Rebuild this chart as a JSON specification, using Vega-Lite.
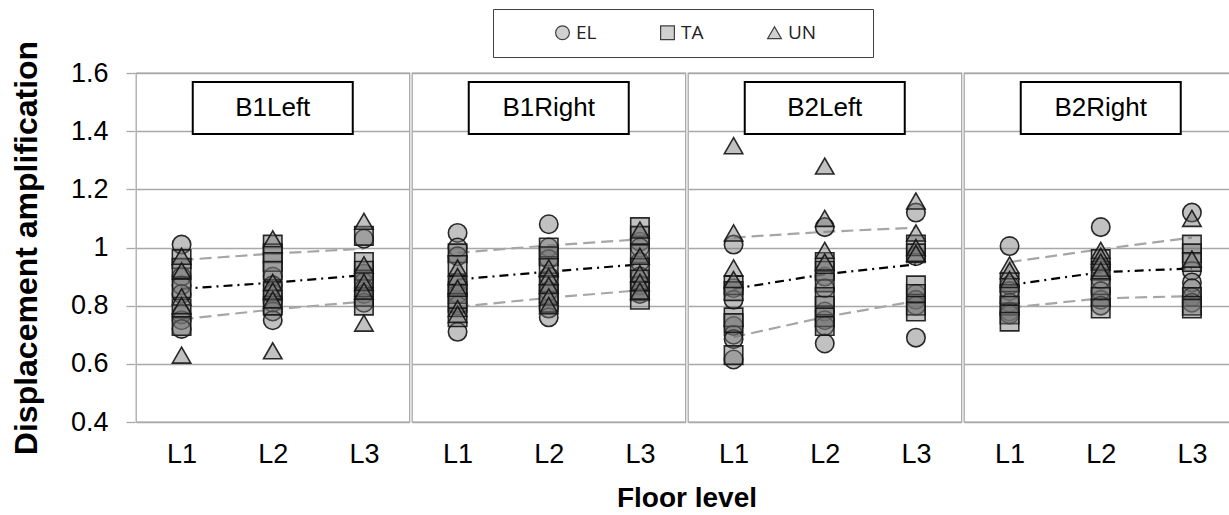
{
  "$schema": "https://vega.github.io/schema/vega-lite/v6.json",
  "padding": {"left": 10, "top": 8, "right": 0, "bottom": 0},
  "data": {
    "values": [
      {"panel": "B1Left", "level": "L1", "series": "EL", "value": 1.01},
      {"panel": "B1Left", "level": "L1", "series": "EL", "value": 0.90},
      {"panel": "B1Left", "level": "L1", "series": "EL", "value": 0.87},
      {"panel": "B1Left", "level": "L1", "series": "EL", "value": 0.84},
      {"panel": "B1Left", "level": "L1", "series": "EL", "value": 0.77},
      {"panel": "B1Left", "level": "L1", "series": "EL", "value": 0.75},
      {"panel": "B1Left", "level": "L1", "series": "EL", "value": 0.72},
      {"panel": "B1Left", "level": "L1", "series": "TA", "value": 0.96},
      {"panel": "B1Left", "level": "L1", "series": "TA", "value": 0.93},
      {"panel": "B1Left", "level": "L1", "series": "TA", "value": 0.86},
      {"panel": "B1Left", "level": "L1", "series": "TA", "value": 0.79},
      {"panel": "B1Left", "level": "L1", "series": "TA", "value": 0.73},
      {"panel": "B1Left", "level": "L1", "series": "UN", "value": 0.97},
      {"panel": "B1Left", "level": "L1", "series": "UN", "value": 0.92},
      {"panel": "B1Left", "level": "L1", "series": "UN", "value": 0.83},
      {"panel": "B1Left", "level": "L1", "series": "UN", "value": 0.80},
      {"panel": "B1Left", "level": "L1", "series": "UN", "value": 0.63},
      {"panel": "B1Left", "level": "L2", "series": "EL", "value": 0.90},
      {"panel": "B1Left", "level": "L2", "series": "EL", "value": 0.87},
      {"panel": "B1Left", "level": "L2", "series": "EL", "value": 0.84},
      {"panel": "B1Left", "level": "L2", "series": "EL", "value": 0.81},
      {"panel": "B1Left", "level": "L2", "series": "EL", "value": 0.78},
      {"panel": "B1Left", "level": "L2", "series": "EL", "value": 0.75},
      {"panel": "B1Left", "level": "L2", "series": "TA", "value": 1.01},
      {"panel": "B1Left", "level": "L2", "series": "TA", "value": 0.98},
      {"panel": "B1Left", "level": "L2", "series": "TA", "value": 0.95},
      {"panel": "B1Left", "level": "L2", "series": "TA", "value": 0.92},
      {"panel": "B1Left", "level": "L2", "series": "TA", "value": 0.85},
      {"panel": "B1Left", "level": "L2", "series": "TA", "value": 0.80},
      {"panel": "B1Left", "level": "L2", "series": "UN", "value": 1.03},
      {"panel": "B1Left", "level": "L2", "series": "UN", "value": 0.88},
      {"panel": "B1Left", "level": "L2", "series": "UN", "value": 0.85},
      {"panel": "B1Left", "level": "L2", "series": "UN", "value": 0.82},
      {"panel": "B1Left", "level": "L2", "series": "UN", "value": 0.645},
      {"panel": "B1Left", "level": "L3", "series": "EL", "value": 1.03},
      {"panel": "B1Left", "level": "L3", "series": "EL", "value": 0.91},
      {"panel": "B1Left", "level": "L3", "series": "EL", "value": 0.88},
      {"panel": "B1Left", "level": "L3", "series": "EL", "value": 0.86},
      {"panel": "B1Left", "level": "L3", "series": "EL", "value": 0.84},
      {"panel": "B1Left", "level": "L3", "series": "EL", "value": 0.81},
      {"panel": "B1Left", "level": "L3", "series": "TA", "value": 1.04},
      {"panel": "B1Left", "level": "L3", "series": "TA", "value": 0.95},
      {"panel": "B1Left", "level": "L3", "series": "TA", "value": 0.92},
      {"panel": "B1Left", "level": "L3", "series": "TA", "value": 0.89},
      {"panel": "B1Left", "level": "L3", "series": "TA", "value": 0.83},
      {"panel": "B1Left", "level": "L3", "series": "TA", "value": 0.80},
      {"panel": "B1Left", "level": "L3", "series": "UN", "value": 1.09},
      {"panel": "B1Left", "level": "L3", "series": "UN", "value": 0.94},
      {"panel": "B1Left", "level": "L3", "series": "UN", "value": 0.88},
      {"panel": "B1Left", "level": "L3", "series": "UN", "value": 0.85},
      {"panel": "B1Left", "level": "L3", "series": "UN", "value": 0.74},
      {"panel": "B1Left", "level": "L1", "series": "mean", "value": 0.858},
      {"panel": "B1Left", "level": "L2", "series": "mean", "value": 0.879},
      {"panel": "B1Left", "level": "L3", "series": "mean", "value": 0.905},
      {"panel": "B1Left", "level": "L1", "series": "upper", "value": 0.957},
      {"panel": "B1Left", "level": "L2", "series": "upper", "value": 0.979},
      {"panel": "B1Left", "level": "L3", "series": "upper", "value": 0.996},
      {"panel": "B1Left", "level": "L1", "series": "lower", "value": 0.753},
      {"panel": "B1Left", "level": "L2", "series": "lower", "value": 0.787},
      {"panel": "B1Left", "level": "L3", "series": "lower", "value": 0.814},

      {"panel": "B1Right", "level": "L1", "series": "EL", "value": 1.05},
      {"panel": "B1Right", "level": "L1", "series": "EL", "value": 1.00},
      {"panel": "B1Right", "level": "L1", "series": "EL", "value": 0.97},
      {"panel": "B1Right", "level": "L1", "series": "EL", "value": 0.88},
      {"panel": "B1Right", "level": "L1", "series": "EL", "value": 0.84},
      {"panel": "B1Right", "level": "L1", "series": "EL", "value": 0.80},
      {"panel": "B1Right", "level": "L1", "series": "EL", "value": 0.71},
      {"panel": "B1Right", "level": "L1", "series": "TA", "value": 0.98},
      {"panel": "B1Right", "level": "L1", "series": "TA", "value": 0.94},
      {"panel": "B1Right", "level": "L1", "series": "TA", "value": 0.87},
      {"panel": "B1Right", "level": "L1", "series": "TA", "value": 0.84},
      {"panel": "B1Right", "level": "L1", "series": "TA", "value": 0.81},
      {"panel": "B1Right", "level": "L1", "series": "TA", "value": 0.76},
      {"panel": "B1Right", "level": "L1", "series": "UN", "value": 0.93},
      {"panel": "B1Right", "level": "L1", "series": "UN", "value": 0.90},
      {"panel": "B1Right", "level": "L1", "series": "UN", "value": 0.86},
      {"panel": "B1Right", "level": "L1", "series": "UN", "value": 0.79},
      {"panel": "B1Right", "level": "L1", "series": "UN", "value": 0.77},
      {"panel": "B1Right", "level": "L2", "series": "EL", "value": 1.08},
      {"panel": "B1Right", "level": "L2", "series": "EL", "value": 1.00},
      {"panel": "B1Right", "level": "L2", "series": "EL", "value": 0.96},
      {"panel": "B1Right", "level": "L2", "series": "EL", "value": 0.90},
      {"panel": "B1Right", "level": "L2", "series": "EL", "value": 0.85},
      {"panel": "B1Right", "level": "L2", "series": "EL", "value": 0.79},
      {"panel": "B1Right", "level": "L2", "series": "EL", "value": 0.76},
      {"panel": "B1Right", "level": "L2", "series": "TA", "value": 1.00},
      {"panel": "B1Right", "level": "L2", "series": "TA", "value": 0.97},
      {"panel": "B1Right", "level": "L2", "series": "TA", "value": 0.93},
      {"panel": "B1Right", "level": "L2", "series": "TA", "value": 0.88},
      {"panel": "B1Right", "level": "L2", "series": "TA", "value": 0.84},
      {"panel": "B1Right", "level": "L2", "series": "TA", "value": 0.81},
      {"panel": "B1Right", "level": "L2", "series": "UN", "value": 0.93},
      {"panel": "B1Right", "level": "L2", "series": "UN", "value": 0.90},
      {"panel": "B1Right", "level": "L2", "series": "UN", "value": 0.87},
      {"panel": "B1Right", "level": "L2", "series": "UN", "value": 0.83},
      {"panel": "B1Right", "level": "L2", "series": "UN", "value": 0.80},
      {"panel": "B1Right", "level": "L3", "series": "EL", "value": 1.02},
      {"panel": "B1Right", "level": "L3", "series": "EL", "value": 1.00},
      {"panel": "B1Right", "level": "L3", "series": "EL", "value": 0.95},
      {"panel": "B1Right", "level": "L3", "series": "EL", "value": 0.90},
      {"panel": "B1Right", "level": "L3", "series": "EL", "value": 0.87},
      {"panel": "B1Right", "level": "L3", "series": "EL", "value": 0.84},
      {"panel": "B1Right", "level": "L3", "series": "TA", "value": 1.07},
      {"panel": "B1Right", "level": "L3", "series": "TA", "value": 1.04},
      {"panel": "B1Right", "level": "L3", "series": "TA", "value": 0.98},
      {"panel": "B1Right", "level": "L3", "series": "TA", "value": 0.93},
      {"panel": "B1Right", "level": "L3", "series": "TA", "value": 0.89},
      {"panel": "B1Right", "level": "L3", "series": "TA", "value": 0.85},
      {"panel": "B1Right", "level": "L3", "series": "TA", "value": 0.82},
      {"panel": "B1Right", "level": "L3", "series": "UN", "value": 1.06},
      {"panel": "B1Right", "level": "L3", "series": "UN", "value": 0.97},
      {"panel": "B1Right", "level": "L3", "series": "UN", "value": 0.91},
      {"panel": "B1Right", "level": "L3", "series": "UN", "value": 0.88},
      {"panel": "B1Right", "level": "L3", "series": "UN", "value": 0.85},
      {"panel": "B1Right", "level": "L1", "series": "mean", "value": 0.890},
      {"panel": "B1Right", "level": "L2", "series": "mean", "value": 0.917},
      {"panel": "B1Right", "level": "L3", "series": "mean", "value": 0.942},
      {"panel": "B1Right", "level": "L1", "series": "upper", "value": 0.982},
      {"panel": "B1Right", "level": "L2", "series": "upper", "value": 1.007},
      {"panel": "B1Right", "level": "L3", "series": "upper", "value": 1.028},
      {"panel": "B1Right", "level": "L1", "series": "lower", "value": 0.796},
      {"panel": "B1Right", "level": "L2", "series": "lower", "value": 0.827},
      {"panel": "B1Right", "level": "L3", "series": "lower", "value": 0.853},

      {"panel": "B2Left", "level": "L1", "series": "EL", "value": 1.01},
      {"panel": "B2Left", "level": "L1", "series": "EL", "value": 0.86},
      {"panel": "B2Left", "level": "L1", "series": "EL", "value": 0.82},
      {"panel": "B2Left", "level": "L1", "series": "EL", "value": 0.73},
      {"panel": "B2Left", "level": "L1", "series": "EL", "value": 0.70},
      {"panel": "B2Left", "level": "L1", "series": "EL", "value": 0.685},
      {"panel": "B2Left", "level": "L1", "series": "EL", "value": 0.615},
      {"panel": "B2Left", "level": "L1", "series": "TA", "value": 0.87},
      {"panel": "B2Left", "level": "L1", "series": "TA", "value": 0.85},
      {"panel": "B2Left", "level": "L1", "series": "TA", "value": 0.76},
      {"panel": "B2Left", "level": "L1", "series": "TA", "value": 0.74},
      {"panel": "B2Left", "level": "L1", "series": "TA", "value": 0.63},
      {"panel": "B2Left", "level": "L1", "series": "UN", "value": 1.35},
      {"panel": "B2Left", "level": "L1", "series": "UN", "value": 1.05},
      {"panel": "B2Left", "level": "L1", "series": "UN", "value": 0.93},
      {"panel": "B2Left", "level": "L1", "series": "UN", "value": 0.89},
      {"panel": "B2Left", "level": "L2", "series": "EL", "value": 1.07},
      {"panel": "B2Left", "level": "L2", "series": "EL", "value": 0.90},
      {"panel": "B2Left", "level": "L2", "series": "EL", "value": 0.86},
      {"panel": "B2Left", "level": "L2", "series": "EL", "value": 0.78},
      {"panel": "B2Left", "level": "L2", "series": "EL", "value": 0.75},
      {"panel": "B2Left", "level": "L2", "series": "EL", "value": 0.73},
      {"panel": "B2Left", "level": "L2", "series": "EL", "value": 0.67},
      {"panel": "B2Left", "level": "L2", "series": "TA", "value": 0.95},
      {"panel": "B2Left", "level": "L2", "series": "TA", "value": 0.92},
      {"panel": "B2Left", "level": "L2", "series": "TA", "value": 0.88},
      {"panel": "B2Left", "level": "L2", "series": "TA", "value": 0.83},
      {"panel": "B2Left", "level": "L2", "series": "TA", "value": 0.80},
      {"panel": "B2Left", "level": "L2", "series": "TA", "value": 0.76},
      {"panel": "B2Left", "level": "L2", "series": "TA", "value": 0.73},
      {"panel": "B2Left", "level": "L2", "series": "UN", "value": 1.28},
      {"panel": "B2Left", "level": "L2", "series": "UN", "value": 1.10},
      {"panel": "B2Left", "level": "L2", "series": "UN", "value": 0.99},
      {"panel": "B2Left", "level": "L2", "series": "UN", "value": 0.95},
      {"panel": "B2Left", "level": "L3", "series": "EL", "value": 1.12},
      {"panel": "B2Left", "level": "L3", "series": "EL", "value": 0.97},
      {"panel": "B2Left", "level": "L3", "series": "EL", "value": 0.84},
      {"panel": "B2Left", "level": "L3", "series": "EL", "value": 0.82},
      {"panel": "B2Left", "level": "L3", "series": "EL", "value": 0.80},
      {"panel": "B2Left", "level": "L3", "series": "EL", "value": 0.69},
      {"panel": "B2Left", "level": "L3", "series": "TA", "value": 1.01},
      {"panel": "B2Left", "level": "L3", "series": "TA", "value": 0.98},
      {"panel": "B2Left", "level": "L3", "series": "TA", "value": 0.87},
      {"panel": "B2Left", "level": "L3", "series": "TA", "value": 0.84},
      {"panel": "B2Left", "level": "L3", "series": "TA", "value": 0.80},
      {"panel": "B2Left", "level": "L3", "series": "TA", "value": 0.78},
      {"panel": "B2Left", "level": "L3", "series": "UN", "value": 1.16},
      {"panel": "B2Left", "level": "L3", "series": "UN", "value": 1.05},
      {"panel": "B2Left", "level": "L3", "series": "UN", "value": 1.00},
      {"panel": "B2Left", "level": "L3", "series": "UN", "value": 0.98},
      {"panel": "B2Left", "level": "L1", "series": "mean", "value": 0.858},
      {"panel": "B2Left", "level": "L2", "series": "mean", "value": 0.908},
      {"panel": "B2Left", "level": "L3", "series": "mean", "value": 0.942},
      {"panel": "B2Left", "level": "L1", "series": "upper", "value": 1.034},
      {"panel": "B2Left", "level": "L2", "series": "upper", "value": 1.054},
      {"panel": "B2Left", "level": "L3", "series": "upper", "value": 1.068},
      {"panel": "B2Left", "level": "L1", "series": "lower", "value": 0.692},
      {"panel": "B2Left", "level": "L2", "series": "lower", "value": 0.761},
      {"panel": "B2Left", "level": "L3", "series": "lower", "value": 0.816},

      {"panel": "B2Right", "level": "L1", "series": "EL", "value": 1.005},
      {"panel": "B2Right", "level": "L1", "series": "EL", "value": 0.87},
      {"panel": "B2Right", "level": "L1", "series": "EL", "value": 0.85},
      {"panel": "B2Right", "level": "L1", "series": "EL", "value": 0.81},
      {"panel": "B2Right", "level": "L1", "series": "EL", "value": 0.78},
      {"panel": "B2Right", "level": "L1", "series": "EL", "value": 0.77},
      {"panel": "B2Right", "level": "L1", "series": "TA", "value": 0.88},
      {"panel": "B2Right", "level": "L1", "series": "TA", "value": 0.84},
      {"panel": "B2Right", "level": "L1", "series": "TA", "value": 0.80},
      {"panel": "B2Right", "level": "L1", "series": "TA", "value": 0.77},
      {"panel": "B2Right", "level": "L1", "series": "TA", "value": 0.745},
      {"panel": "B2Right", "level": "L1", "series": "UN", "value": 0.94},
      {"panel": "B2Right", "level": "L1", "series": "UN", "value": 0.92},
      {"panel": "B2Right", "level": "L1", "series": "UN", "value": 0.89},
      {"panel": "B2Right", "level": "L2", "series": "EL", "value": 1.07},
      {"panel": "B2Right", "level": "L2", "series": "EL", "value": 0.93},
      {"panel": "B2Right", "level": "L2", "series": "EL", "value": 0.89},
      {"panel": "B2Right", "level": "L2", "series": "EL", "value": 0.85},
      {"panel": "B2Right", "level": "L2", "series": "EL", "value": 0.82},
      {"panel": "B2Right", "level": "L2", "series": "EL", "value": 0.80},
      {"panel": "B2Right", "level": "L2", "series": "TA", "value": 0.96},
      {"panel": "B2Right", "level": "L2", "series": "TA", "value": 0.92},
      {"panel": "B2Right", "level": "L2", "series": "TA", "value": 0.87},
      {"panel": "B2Right", "level": "L2", "series": "TA", "value": 0.83},
      {"panel": "B2Right", "level": "L2", "series": "TA", "value": 0.79},
      {"panel": "B2Right", "level": "L2", "series": "UN", "value": 0.99},
      {"panel": "B2Right", "level": "L2", "series": "UN", "value": 0.97},
      {"panel": "B2Right", "level": "L2", "series": "UN", "value": 0.95},
      {"panel": "B2Right", "level": "L2", "series": "UN", "value": 0.92},
      {"panel": "B2Right", "level": "L3", "series": "EL", "value": 1.12},
      {"panel": "B2Right", "level": "L3", "series": "EL", "value": 0.92},
      {"panel": "B2Right", "level": "L3", "series": "EL", "value": 0.88},
      {"panel": "B2Right", "level": "L3", "series": "EL", "value": 0.86},
      {"panel": "B2Right", "level": "L3", "series": "EL", "value": 0.83},
      {"panel": "B2Right", "level": "L3", "series": "EL", "value": 0.81},
      {"panel": "B2Right", "level": "L3", "series": "TA", "value": 1.01},
      {"panel": "B2Right", "level": "L3", "series": "TA", "value": 0.98},
      {"panel": "B2Right", "level": "L3", "series": "TA", "value": 0.95},
      {"panel": "B2Right", "level": "L3", "series": "TA", "value": 0.83},
      {"panel": "B2Right", "level": "L3", "series": "TA", "value": 0.80},
      {"panel": "B2Right", "level": "L3", "series": "TA", "value": 0.79},
      {"panel": "B2Right", "level": "L3", "series": "UN", "value": 1.10},
      {"panel": "B2Right", "level": "L3", "series": "UN", "value": 0.96},
      {"panel": "B2Right", "level": "L1", "series": "mean", "value": 0.871},
      {"panel": "B2Right", "level": "L2", "series": "mean", "value": 0.915},
      {"panel": "B2Right", "level": "L3", "series": "mean", "value": 0.928},
      {"panel": "B2Right", "level": "L1", "series": "upper", "value": 0.950},
      {"panel": "B2Right", "level": "L2", "series": "upper", "value": 0.994},
      {"panel": "B2Right", "level": "L3", "series": "upper", "value": 1.034},
      {"panel": "B2Right", "level": "L1", "series": "lower", "value": 0.793},
      {"panel": "B2Right", "level": "L2", "series": "lower", "value": 0.825},
      {"panel": "B2Right", "level": "L3", "series": "lower", "value": 0.833}
    ]
  },
  "facet": {
    "column": {
      "field": "panel",
      "type": "nominal",
      "sort": ["B1Left", "B1Right", "B2Left", "B2Right"],
      "header": {
        "labels": false,
        "title": "Floor level",
        "titleOrient": "bottom",
        "titleFont": "Liberation Sans",
        "titleFontSize": 28,
        "titleFontWeight": "bold",
        "titleColor": "#000000",
        "titlePadding": 8
      }
    }
  },
  "spacing": 0,
  "spec": {
    "width": 273.5,
    "height": 349,
    "encoding": {
      "x": {
        "field": "level",
        "type": "nominal",
        "sort": ["L1", "L2", "L3"],
        "scale": {"paddingInner": 0, "paddingOuter": 0},
        "axis": {
          "title": null,
          "labelAngle": 0,
          "ticks": false,
          "domain": false,
          "grid": false,
          "labelFontSize": 27,
          "labelPadding": 18
        }
      }
    },
    "layer": [
      {
        "transform": [{"filter": {"field": "series", "oneOf": ["mean", "upper", "lower"]}}],
        "mark": {"type": "line", "strokeWidth": 2.2},
        "encoding": {
          "y": {
            "field": "value",
            "type": "quantitative",
            "scale": {"domain": [0.4, 1.6], "nice": false, "zero": false},
            "axis": {
              "title": "Displacement amplification",
              "titleFontSize": 32,
              "titleFontWeight": "bold",
              "titlePadding": 27,
              "values": [0.4, 0.6, 0.8, 1.0, 1.2, 1.4, 1.6],
              "format": "~g",
              "labelFontSize": 27,
              "labelPadding": 18,
              "tickSize": 9,
              "tickColor": "#a8a8a8",
              "tickWidth": 1.3,
              "domain": false,
              "grid": true,
              "gridColor": "#a8a8a8",
              "gridWidth": 1.3
            }
          },
          "detail": {"field": "series"},
          "color": {
            "field": "series",
            "type": "nominal",
            "scale": {"domain": ["mean", "upper", "lower"], "range": ["#000000", "#a6a6a6", "#a6a6a6"]},
            "legend": null
          },
          "strokeDash": {
            "field": "series",
            "type": "nominal",
            "scale": {"domain": ["mean", "upper", "lower"], "range": [[9, 5, 2, 5], [12, 6], [12, 6]]},
            "legend": null
          }
        }
      },
      {
        "transform": [{"filter": {"field": "series", "oneOf": ["EL", "TA", "UN"]}}],
        "mark": {
          "type": "point",
          "filled": true,
          "fillOpacity": 0.45,
          "stroke": "#141414",
          "strokeWidth": 1.6,
          "strokeOpacity": 0.9,
          "size": 340
        },
        "encoding": {
          "y": {"field": "value", "type": "quantitative"},
          "fill": {
            "field": "panel",
            "type": "nominal",
            "scale": {"domain": ["B1Left", "B1Right", "B2Left", "B2Right"], "range": ["#767676", "#767676", "#767676", "#767676"]},
            "legend": null
          },
          "shape": {
            "field": "series",
            "type": "nominal",
            "scale": {"domain": ["EL", "TA", "UN"], "range": ["circle", "square", "triangle-up"]},
            "legend": {
              "title": "\u00a0",
              "titleOrient": "right",
              "titlePadding": 43,
              "titleFontSize": 19,
              "orient": "none",
              "direction": "horizontal",
              "legendX": 357,
              "legendY": -64,
              "padding": 14,
              "strokeColor": "#404040",
              "symbolOffset": 46,
              "labelOffset": 4,
              "columnPadding": 15,
              "symbolSize": 190,
              "symbolFillColor": "#d0d0d0",
              "symbolStrokeColor": "#404040",
              "symbolStrokeWidth": 1.2,
              "symbolOpacity": 1,
              "labelFont": "Open Sans",
              "labelFontSize": 19,
              "labelColor": "#222222"
            }
          }
        }
      },
      {
        "transform": [{"filter": "datum.series == 'mean' && datum.level == 'L2'"}],
        "mark": {
          "type": "point",
          "shape": "M-1,-0.325L1,-0.325L1,0.325L-1,0.325Z",
          "size": 25600,
          "filled": true,
          "fill": "#ffffff",
          "stroke": "#000000",
          "strokeWidth": 2,
          "opacity": 1
        },
        "encoding": {
          "y": {"datum": 1.48, "type": "quantitative"}
        }
      },
      {
        "transform": [{"filter": "datum.series == 'mean' && datum.level == 'L2'"}],
        "mark": {"type": "text", "fontSize": 26, "color": "#000000", "baseline": "middle", "align": "center"},
        "encoding": {
          "y": {"datum": 1.48, "type": "quantitative"},
          "text": {"field": "panel"}
        }
      }
    ]
  },
  "config": {
    "font": "Liberation Sans",
    "view": {"stroke": "#a8a8a8", "strokeWidth": 1.3},
    "axis": {"labelColor": "#000000", "labelFont": "Liberation Sans", "titleColor": "#000000", "titleFont": "Liberation Sans"}
  }
}
